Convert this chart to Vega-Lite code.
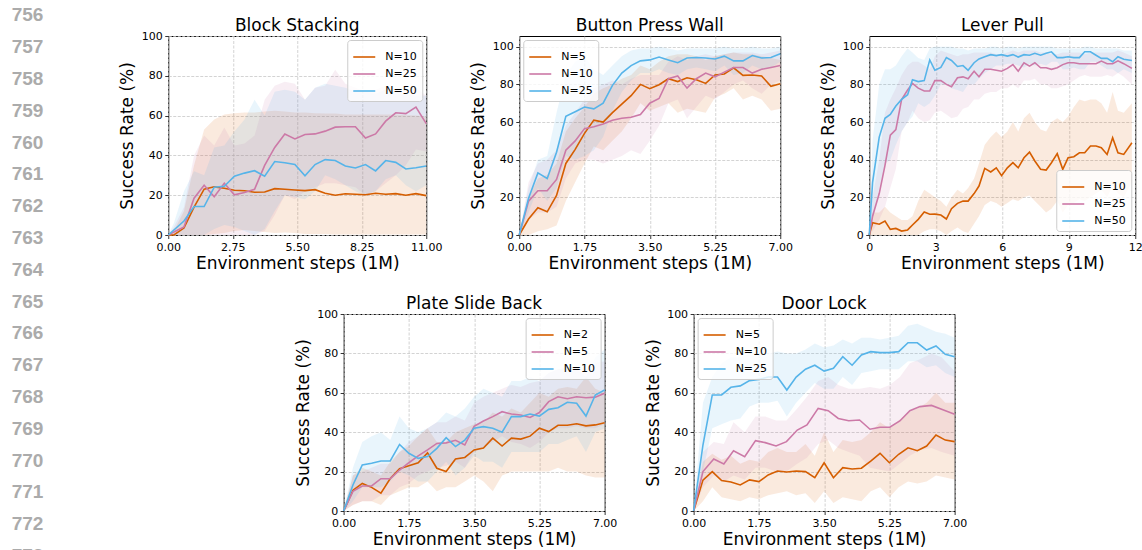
{
  "$schema": "https://vega.github.io/schema/vega-lite/v6.json",
  "padding": {"left": 0, "top": 6, "right": 0, "bottom": 0},
  "background": "white",
  "datasets": {
    "lines": [
      {"n": 756}, {"n": 757}, {"n": 758}, {"n": 759}, {"n": 760}, {"n": 761}, {"n": 762}, {"n": 763}, {"n": 764},
      {"n": 765}, {"n": 766}, {"n": 767}, {"n": 768}, {"n": 769}, {"n": 770}, {"n": 771}, {"n": 772}, {"n": 773}
    ],
    "p1": [
      {"x": 0, "s": "N=10", "m": 0, "lo": 0, "hi": 0},
      {"x": 0.24, "s": "N=10", "m": 0, "lo": 0, "hi": 2},
      {"x": 0.67, "s": "N=10", "m": 3.5, "lo": 0, "hi": 12},
      {"x": 1.1, "s": "N=10", "m": 14, "lo": 0, "hi": 35},
      {"x": 1.53, "s": "N=10", "m": 23, "lo": 0, "hi": 53},
      {"x": 1.96, "s": "N=10", "m": 24.2, "lo": 0.5, "hi": 58},
      {"x": 2.39, "s": "N=10", "m": 23.5, "lo": 1, "hi": 60.5},
      {"x": 2.82, "s": "N=10", "m": 22.5, "lo": 2, "hi": 61.2},
      {"x": 3.25, "s": "N=10", "m": 22.2, "lo": 2.5, "hi": 61.5},
      {"x": 3.68, "s": "N=10", "m": 21.5, "lo": 2, "hi": 61.5},
      {"x": 4.11, "s": "N=10", "m": 21.6, "lo": 1.5, "hi": 62},
      {"x": 4.54, "s": "N=10", "m": 23.3, "lo": 1, "hi": 62.5},
      {"x": 4.97, "s": "N=10", "m": 23, "lo": 1.2, "hi": 62},
      {"x": 5.4, "s": "N=10", "m": 22.6, "lo": 1, "hi": 61.5},
      {"x": 5.83, "s": "N=10", "m": 22.3, "lo": 0.5, "hi": 61.5},
      {"x": 6.26, "s": "N=10", "m": 22.8, "lo": 0.5, "hi": 61.2},
      {"x": 6.69, "s": "N=10", "m": 21, "lo": 0.5, "hi": 61},
      {"x": 7.12, "s": "N=10", "m": 20, "lo": 0.3, "hi": 61},
      {"x": 7.55, "s": "N=10", "m": 20.7, "lo": 0.3, "hi": 60.5},
      {"x": 7.98, "s": "N=10", "m": 20.5, "lo": 0.3, "hi": 60.5},
      {"x": 8.41, "s": "N=10", "m": 20.2, "lo": 0.3, "hi": 60.5},
      {"x": 8.84, "s": "N=10", "m": 21, "lo": 0.3, "hi": 60.5},
      {"x": 9.27, "s": "N=10", "m": 20.5, "lo": 0.3, "hi": 60.5},
      {"x": 9.7, "s": "N=10", "m": 20.8, "lo": 0.3, "hi": 60.5},
      {"x": 10.13, "s": "N=10", "m": 20, "lo": 0.3, "hi": 60.2},
      {"x": 10.56, "s": "N=10", "m": 20.8, "lo": 0.3, "hi": 60},
      {"x": 11, "s": "N=10", "m": 19.8, "lo": 0.3, "hi": 59.5},
      {"x": 0, "s": "N=25", "m": 0, "lo": 0, "hi": 0},
      {"x": 0.24, "s": "N=25", "m": 1.5, "lo": 0, "hi": 4},
      {"x": 0.67, "s": "N=25", "m": 4, "lo": 0, "hi": 14},
      {"x": 1.1, "s": "N=25", "m": 18.5, "lo": 0, "hi": 40},
      {"x": 1.53, "s": "N=25", "m": 25, "lo": 0, "hi": 50},
      {"x": 1.96, "s": "N=25", "m": 19.2, "lo": 0, "hi": 45},
      {"x": 2.39, "s": "N=25", "m": 26, "lo": 0, "hi": 54},
      {"x": 2.82, "s": "N=25", "m": 20.2, "lo": 0, "hi": 45},
      {"x": 3.25, "s": "N=25", "m": 21.4, "lo": 0, "hi": 46},
      {"x": 3.68, "s": "N=25", "m": 23, "lo": 0, "hi": 50},
      {"x": 4.11, "s": "N=25", "m": 35, "lo": 2, "hi": 68},
      {"x": 4.54, "s": "N=25", "m": 44, "lo": 10, "hi": 75},
      {"x": 4.97, "s": "N=25", "m": 50.8, "lo": 20, "hi": 77},
      {"x": 5.4, "s": "N=25", "m": 48.3, "lo": 18, "hi": 76},
      {"x": 5.83, "s": "N=25", "m": 50.5, "lo": 22, "hi": 68},
      {"x": 6.26, "s": "N=25", "m": 50.8, "lo": 24, "hi": 74},
      {"x": 6.69, "s": "N=25", "m": 52.2, "lo": 26, "hi": 75},
      {"x": 7.12, "s": "N=25", "m": 54.2, "lo": 26, "hi": 83},
      {"x": 7.55, "s": "N=25", "m": 54.4, "lo": 25, "hi": 76},
      {"x": 7.98, "s": "N=25", "m": 54.4, "lo": 24, "hi": 74},
      {"x": 8.41, "s": "N=25", "m": 48.7, "lo": 20, "hi": 72},
      {"x": 8.84, "s": "N=25", "m": 50.8, "lo": 22, "hi": 73},
      {"x": 9.27, "s": "N=25", "m": 57.2, "lo": 26, "hi": 75},
      {"x": 9.7, "s": "N=25", "m": 61.4, "lo": 30, "hi": 73},
      {"x": 10.13, "s": "N=25", "m": 61, "lo": 35, "hi": 72},
      {"x": 10.56, "s": "N=25", "m": 64.3, "lo": 43, "hi": 74},
      {"x": 11, "s": "N=25", "m": 56, "lo": 42, "hi": 70},
      {"x": 0, "s": "N=50", "m": 0, "lo": 0, "hi": 0},
      {"x": 0.24, "s": "N=50", "m": 2.5, "lo": 0, "hi": 6},
      {"x": 0.67, "s": "N=50", "m": 7, "lo": 0, "hi": 22},
      {"x": 1.1, "s": "N=50", "m": 14.3, "lo": 0, "hi": 32},
      {"x": 1.53, "s": "N=50", "m": 14.3, "lo": 0, "hi": 30},
      {"x": 1.96, "s": "N=50", "m": 24, "lo": 3, "hi": 44},
      {"x": 2.39, "s": "N=50", "m": 24.5, "lo": 5, "hi": 45},
      {"x": 2.82, "s": "N=50", "m": 29.5, "lo": 4, "hi": 52},
      {"x": 3.25, "s": "N=50", "m": 31.1, "lo": 2, "hi": 58},
      {"x": 3.68, "s": "N=50", "m": 32.3, "lo": 0, "hi": 68},
      {"x": 4.11, "s": "N=50", "m": 29.5, "lo": 3, "hi": 60},
      {"x": 4.54, "s": "N=50", "m": 36.9, "lo": 12, "hi": 72},
      {"x": 4.97, "s": "N=50", "m": 36.3, "lo": 20, "hi": 73},
      {"x": 5.4, "s": "N=50", "m": 35.4, "lo": 19, "hi": 72},
      {"x": 5.83, "s": "N=50", "m": 29.8, "lo": 18, "hi": 68},
      {"x": 6.26, "s": "N=50", "m": 35.4, "lo": 22, "hi": 74},
      {"x": 6.69, "s": "N=50", "m": 37.9, "lo": 30, "hi": 76},
      {"x": 7.12, "s": "N=50", "m": 37.4, "lo": 28, "hi": 75},
      {"x": 7.55, "s": "N=50", "m": 34.7, "lo": 25, "hi": 74},
      {"x": 7.98, "s": "N=50", "m": 33.7, "lo": 22, "hi": 72},
      {"x": 8.41, "s": "N=50", "m": 35.4, "lo": 20, "hi": 72},
      {"x": 8.84, "s": "N=50", "m": 32.2, "lo": 22, "hi": 71},
      {"x": 9.27, "s": "N=50", "m": 37.4, "lo": 28, "hi": 73},
      {"x": 9.7, "s": "N=50", "m": 36.5, "lo": 30, "hi": 72},
      {"x": 10.13, "s": "N=50", "m": 33.2, "lo": 25, "hi": 71},
      {"x": 10.56, "s": "N=50", "m": 33.8, "lo": 22, "hi": 70},
      {"x": 11, "s": "N=50", "m": 34.7, "lo": 25, "hi": 70}
    ],
    "p2": [
      {"x": 0, "s": "N=5", "m": 0, "lo": 0, "hi": 0},
      {"x": 0.25, "s": "N=5", "m": 8.5, "lo": 0, "hi": 20},
      {"x": 0.5, "s": "N=5", "m": 14.5, "lo": 2, "hi": 30},
      {"x": 0.75, "s": "N=5", "m": 12.3, "lo": 3, "hi": 32},
      {"x": 1, "s": "N=5", "m": 21, "lo": 5, "hi": 38},
      {"x": 1.25, "s": "N=5", "m": 38, "lo": 18, "hi": 55},
      {"x": 1.5, "s": "N=5", "m": 45.5, "lo": 28, "hi": 62},
      {"x": 1.75, "s": "N=5", "m": 54, "lo": 38, "hi": 68},
      {"x": 2, "s": "N=5", "m": 61, "lo": 47, "hi": 75},
      {"x": 2.25, "s": "N=5", "m": 60, "lo": 45, "hi": 78},
      {"x": 2.5, "s": "N=5", "m": 65, "lo": 50, "hi": 80},
      {"x": 2.75, "s": "N=5", "m": 69.5, "lo": 55, "hi": 83},
      {"x": 3, "s": "N=5", "m": 74, "lo": 62, "hi": 85},
      {"x": 3.25, "s": "N=5", "m": 80, "lo": 70, "hi": 90},
      {"x": 3.5, "s": "N=5", "m": 77.7, "lo": 66, "hi": 88},
      {"x": 3.75, "s": "N=5", "m": 79.8, "lo": 68, "hi": 92},
      {"x": 4, "s": "N=5", "m": 83, "lo": 70, "hi": 95},
      {"x": 4.25, "s": "N=5", "m": 81.5, "lo": 65, "hi": 96},
      {"x": 4.5, "s": "N=5", "m": 83.5, "lo": 67, "hi": 96},
      {"x": 4.75, "s": "N=5", "m": 82.5, "lo": 66, "hi": 95},
      {"x": 5, "s": "N=5", "m": 80.5, "lo": 65, "hi": 93},
      {"x": 5.25, "s": "N=5", "m": 85, "lo": 73, "hi": 95},
      {"x": 5.5, "s": "N=5", "m": 85.5, "lo": 75, "hi": 96},
      {"x": 5.75, "s": "N=5", "m": 88.8, "lo": 78, "hi": 97},
      {"x": 6, "s": "N=5", "m": 84.8, "lo": 72, "hi": 96},
      {"x": 6.25, "s": "N=5", "m": 85, "lo": 74, "hi": 96},
      {"x": 6.5, "s": "N=5", "m": 84.5, "lo": 72, "hi": 95},
      {"x": 6.75, "s": "N=5", "m": 79, "lo": 66, "hi": 94},
      {"x": 7, "s": "N=5", "m": 80.3, "lo": 67, "hi": 93},
      {"x": 0, "s": "N=10", "m": 0, "lo": 0, "hi": 0},
      {"x": 0.25, "s": "N=10", "m": 18, "lo": 8, "hi": 28},
      {"x": 0.5, "s": "N=10", "m": 23.5, "lo": 12, "hi": 38},
      {"x": 0.75, "s": "N=10", "m": 23.5, "lo": 12, "hi": 40},
      {"x": 1, "s": "N=10", "m": 29.5, "lo": 15, "hi": 45},
      {"x": 1.25, "s": "N=10", "m": 45, "lo": 30, "hi": 58},
      {"x": 1.5, "s": "N=10", "m": 50, "lo": 38, "hi": 65},
      {"x": 1.75, "s": "N=10", "m": 56.5, "lo": 40, "hi": 72},
      {"x": 2, "s": "N=10", "m": 57.5, "lo": 40, "hi": 78},
      {"x": 2.25, "s": "N=10", "m": 59, "lo": 38, "hi": 80},
      {"x": 2.5, "s": "N=10", "m": 61, "lo": 40, "hi": 82},
      {"x": 2.75, "s": "N=10", "m": 62, "lo": 42, "hi": 80},
      {"x": 3, "s": "N=10", "m": 62.5, "lo": 45, "hi": 83},
      {"x": 3.25, "s": "N=10", "m": 64, "lo": 43, "hi": 85},
      {"x": 3.5, "s": "N=10", "m": 70, "lo": 50, "hi": 85},
      {"x": 3.75, "s": "N=10", "m": 72.5, "lo": 58, "hi": 85},
      {"x": 4, "s": "N=10", "m": 83, "lo": 70, "hi": 92},
      {"x": 4.25, "s": "N=10", "m": 84.5, "lo": 72, "hi": 95},
      {"x": 4.5, "s": "N=10", "m": 78, "lo": 62, "hi": 93},
      {"x": 4.75, "s": "N=10", "m": 83, "lo": 68, "hi": 95},
      {"x": 5, "s": "N=10", "m": 86, "lo": 74, "hi": 96},
      {"x": 5.25, "s": "N=10", "m": 84, "lo": 72, "hi": 95},
      {"x": 5.5, "s": "N=10", "m": 86.5, "lo": 76, "hi": 96},
      {"x": 5.75, "s": "N=10", "m": 89, "lo": 80, "hi": 97},
      {"x": 6, "s": "N=10", "m": 89, "lo": 82, "hi": 97},
      {"x": 6.25, "s": "N=10", "m": 86, "lo": 78, "hi": 97},
      {"x": 6.5, "s": "N=10", "m": 88, "lo": 75, "hi": 96},
      {"x": 6.75, "s": "N=10", "m": 89, "lo": 80, "hi": 97},
      {"x": 7, "s": "N=10", "m": 90, "lo": 82, "hi": 98},
      {"x": 0, "s": "N=25", "m": 0, "lo": 0, "hi": 0},
      {"x": 0.25, "s": "N=25", "m": 19.5, "lo": 12, "hi": 25},
      {"x": 0.5, "s": "N=25", "m": 33, "lo": 25, "hi": 40},
      {"x": 0.75, "s": "N=25", "m": 30, "lo": 18, "hi": 42},
      {"x": 1, "s": "N=25", "m": 44, "lo": 25, "hi": 65},
      {"x": 1.25, "s": "N=25", "m": 63, "lo": 42, "hi": 85},
      {"x": 1.5, "s": "N=25", "m": 65.5, "lo": 40, "hi": 92},
      {"x": 1.75, "s": "N=25", "m": 68, "lo": 42, "hi": 95},
      {"x": 2, "s": "N=25", "m": 67, "lo": 45, "hi": 88},
      {"x": 2.25, "s": "N=25", "m": 70, "lo": 52, "hi": 85},
      {"x": 2.5, "s": "N=25", "m": 79.5, "lo": 66, "hi": 90},
      {"x": 2.75, "s": "N=25", "m": 86, "lo": 76, "hi": 95},
      {"x": 3, "s": "N=25", "m": 90, "lo": 82, "hi": 98},
      {"x": 3.25, "s": "N=25", "m": 92.5, "lo": 86, "hi": 99},
      {"x": 3.5, "s": "N=25", "m": 93, "lo": 86, "hi": 99},
      {"x": 3.75, "s": "N=25", "m": 94.5, "lo": 88, "hi": 100},
      {"x": 4, "s": "N=25", "m": 93, "lo": 86, "hi": 99},
      {"x": 4.25, "s": "N=25", "m": 91.5, "lo": 85, "hi": 98},
      {"x": 4.5, "s": "N=25", "m": 94, "lo": 88, "hi": 99},
      {"x": 4.75, "s": "N=25", "m": 94.3, "lo": 89, "hi": 99},
      {"x": 5, "s": "N=25", "m": 94, "lo": 88, "hi": 99},
      {"x": 5.25, "s": "N=25", "m": 93.5, "lo": 87, "hi": 99},
      {"x": 5.5, "s": "N=25", "m": 95, "lo": 90, "hi": 100},
      {"x": 5.75, "s": "N=25", "m": 92.5, "lo": 85, "hi": 99},
      {"x": 6, "s": "N=25", "m": 92.5, "lo": 86, "hi": 99},
      {"x": 6.25, "s": "N=25", "m": 95.3, "lo": 90, "hi": 100},
      {"x": 6.5, "s": "N=25", "m": 94, "lo": 88, "hi": 99},
      {"x": 6.75, "s": "N=25", "m": 94.3, "lo": 89, "hi": 99},
      {"x": 7, "s": "N=25", "m": 96.3, "lo": 92, "hi": 100}
    ],
    "p3": [
      {"x": 0, "s": "N=10", "m": 0, "lo": 0, "hi": 0},
      {"x": 0.15, "s": "N=10", "m": 6.5, "lo": 0, "hi": 12},
      {"x": 0.45, "s": "N=10", "m": 5.7, "lo": 0, "hi": 12},
      {"x": 0.71, "s": "N=10", "m": 7.4, "lo": 0, "hi": 15},
      {"x": 0.95, "s": "N=10", "m": 3, "lo": 0, "hi": 12},
      {"x": 1.2, "s": "N=10", "m": 3.5, "lo": 0, "hi": 10},
      {"x": 1.46, "s": "N=10", "m": 2.1, "lo": 0, "hi": 8},
      {"x": 1.73, "s": "N=10", "m": 2.7, "lo": 0, "hi": 8},
      {"x": 1.95, "s": "N=10", "m": 5.3, "lo": 0, "hi": 10},
      {"x": 2.21, "s": "N=10", "m": 8.3, "lo": 0, "hi": 18},
      {"x": 2.48, "s": "N=10", "m": 12.2, "lo": 2, "hi": 24},
      {"x": 2.73, "s": "N=10", "m": 11, "lo": 3, "hi": 22},
      {"x": 2.96, "s": "N=10", "m": 11.1, "lo": 3, "hi": 20},
      {"x": 3.23, "s": "N=10", "m": 10.6, "lo": 2, "hi": 18},
      {"x": 3.48, "s": "N=10", "m": 8.5, "lo": 0, "hi": 15},
      {"x": 3.71, "s": "N=10", "m": 14, "lo": 2, "hi": 20},
      {"x": 3.98, "s": "N=10", "m": 16.8, "lo": 4, "hi": 24},
      {"x": 4.23, "s": "N=10", "m": 18, "lo": 2, "hi": 22},
      {"x": 4.46, "s": "N=10", "m": 18, "lo": 1, "hi": 25},
      {"x": 4.73, "s": "N=10", "m": 22, "lo": 6, "hi": 30},
      {"x": 4.95, "s": "N=10", "m": 26, "lo": 10, "hi": 38},
      {"x": 5.21, "s": "N=10", "m": 35.4, "lo": 16, "hi": 48},
      {"x": 5.48, "s": "N=10", "m": 33.5, "lo": 18, "hi": 52},
      {"x": 5.73, "s": "N=10", "m": 35.7, "lo": 17, "hi": 55},
      {"x": 5.97, "s": "N=10", "m": 31.5, "lo": 15, "hi": 52},
      {"x": 6.23, "s": "N=10", "m": 35.7, "lo": 17, "hi": 55},
      {"x": 6.48, "s": "N=10", "m": 38.4, "lo": 19, "hi": 60},
      {"x": 6.72, "s": "N=10", "m": 35.7, "lo": 18, "hi": 55},
      {"x": 6.98, "s": "N=10", "m": 41, "lo": 20, "hi": 62},
      {"x": 7.23, "s": "N=10", "m": 44, "lo": 21, "hi": 65},
      {"x": 7.47, "s": "N=10", "m": 39.3, "lo": 18, "hi": 60},
      {"x": 7.73, "s": "N=10", "m": 34.9, "lo": 15, "hi": 56},
      {"x": 7.98, "s": "N=10", "m": 34.5, "lo": 12, "hi": 55},
      {"x": 8.22, "s": "N=10", "m": 38.4, "lo": 14, "hi": 60},
      {"x": 8.48, "s": "N=10", "m": 43.2, "lo": 18, "hi": 62},
      {"x": 8.73, "s": "N=10", "m": 34.9, "lo": 12, "hi": 60},
      {"x": 8.97, "s": "N=10", "m": 41, "lo": 16, "hi": 63},
      {"x": 9.23, "s": "N=10", "m": 41.6, "lo": 17, "hi": 68},
      {"x": 9.48, "s": "N=10", "m": 43.7, "lo": 19, "hi": 72},
      {"x": 9.72, "s": "N=10", "m": 43.7, "lo": 18, "hi": 71},
      {"x": 9.98, "s": "N=10", "m": 47.3, "lo": 20, "hi": 72},
      {"x": 10.23, "s": "N=10", "m": 47.3, "lo": 22, "hi": 72},
      {"x": 10.47, "s": "N=10", "m": 46.4, "lo": 24, "hi": 70},
      {"x": 10.73, "s": "N=10", "m": 42.8, "lo": 20, "hi": 65},
      {"x": 10.98, "s": "N=10", "m": 51.7, "lo": 26, "hi": 76},
      {"x": 11.22, "s": "N=10", "m": 43.7, "lo": 22, "hi": 66},
      {"x": 11.48, "s": "N=10", "m": 42.8, "lo": 20, "hi": 65},
      {"x": 11.85, "s": "N=10", "m": 49, "lo": 28, "hi": 70},
      {"x": 0, "s": "N=25", "m": 0, "lo": 0, "hi": 0},
      {"x": 0.15, "s": "N=25", "m": 10, "lo": 2, "hi": 20},
      {"x": 0.45, "s": "N=25", "m": 22, "lo": 8, "hi": 40},
      {"x": 0.71, "s": "N=25", "m": 37, "lo": 15, "hi": 65},
      {"x": 0.95, "s": "N=25", "m": 53, "lo": 25, "hi": 72},
      {"x": 1.2, "s": "N=25", "m": 56, "lo": 35, "hi": 78},
      {"x": 1.46, "s": "N=25", "m": 72, "lo": 55, "hi": 85},
      {"x": 1.73, "s": "N=25", "m": 77, "lo": 60, "hi": 90},
      {"x": 1.95, "s": "N=25", "m": 80.5, "lo": 66, "hi": 92},
      {"x": 2.21, "s": "N=25", "m": 78, "lo": 62, "hi": 92},
      {"x": 2.48, "s": "N=25", "m": 76.5, "lo": 60, "hi": 90},
      {"x": 2.73, "s": "N=25", "m": 76.5, "lo": 61, "hi": 88},
      {"x": 2.96, "s": "N=25", "m": 82, "lo": 65, "hi": 95},
      {"x": 3.23, "s": "N=25", "m": 82, "lo": 66, "hi": 98},
      {"x": 3.48, "s": "N=25", "m": 80, "lo": 64, "hi": 97},
      {"x": 3.71, "s": "N=25", "m": 78.8, "lo": 62, "hi": 96},
      {"x": 3.98, "s": "N=25", "m": 83.5, "lo": 63, "hi": 95},
      {"x": 4.23, "s": "N=25", "m": 84, "lo": 67, "hi": 96},
      {"x": 4.46, "s": "N=25", "m": 83, "lo": 68, "hi": 96},
      {"x": 4.73, "s": "N=25", "m": 87, "lo": 72, "hi": 97},
      {"x": 4.95, "s": "N=25", "m": 84, "lo": 72, "hi": 97},
      {"x": 5.21, "s": "N=25", "m": 88, "lo": 75, "hi": 97},
      {"x": 5.48, "s": "N=25", "m": 88, "lo": 76, "hi": 97},
      {"x": 5.73, "s": "N=25", "m": 87.5, "lo": 76, "hi": 96},
      {"x": 5.97, "s": "N=25", "m": 87, "lo": 78, "hi": 96},
      {"x": 6.23, "s": "N=25", "m": 88.5, "lo": 78, "hi": 97},
      {"x": 6.48, "s": "N=25", "m": 90.5, "lo": 80, "hi": 98},
      {"x": 6.72, "s": "N=25", "m": 87, "lo": 78, "hi": 97},
      {"x": 6.98, "s": "N=25", "m": 91.5, "lo": 82, "hi": 98},
      {"x": 7.23, "s": "N=25", "m": 89.7, "lo": 82, "hi": 98},
      {"x": 7.47, "s": "N=25", "m": 91.5, "lo": 83, "hi": 98},
      {"x": 7.73, "s": "N=25", "m": 88.8, "lo": 80, "hi": 97},
      {"x": 7.98, "s": "N=25", "m": 88.8, "lo": 80, "hi": 97},
      {"x": 8.22, "s": "N=25", "m": 88, "lo": 78, "hi": 96},
      {"x": 8.48, "s": "N=25", "m": 88.8, "lo": 78, "hi": 96},
      {"x": 8.73, "s": "N=25", "m": 90.5, "lo": 79, "hi": 97},
      {"x": 8.97, "s": "N=25", "m": 91.5, "lo": 80, "hi": 97},
      {"x": 9.23, "s": "N=25", "m": 91.5, "lo": 82, "hi": 97},
      {"x": 9.48, "s": "N=25", "m": 91, "lo": 84, "hi": 97},
      {"x": 9.72, "s": "N=25", "m": 91, "lo": 85, "hi": 96},
      {"x": 9.98, "s": "N=25", "m": 91, "lo": 84, "hi": 97},
      {"x": 10.23, "s": "N=25", "m": 91, "lo": 84, "hi": 97},
      {"x": 10.47, "s": "N=25", "m": 92.4, "lo": 84, "hi": 97},
      {"x": 10.73, "s": "N=25", "m": 91, "lo": 85, "hi": 97},
      {"x": 10.98, "s": "N=25", "m": 91, "lo": 84, "hi": 97},
      {"x": 11.22, "s": "N=25", "m": 92.5, "lo": 86, "hi": 98},
      {"x": 11.48, "s": "N=25", "m": 91, "lo": 84, "hi": 97},
      {"x": 11.85, "s": "N=25", "m": 88.5, "lo": 80, "hi": 95},
      {"x": 0, "s": "N=50", "m": 0, "lo": 0, "hi": 0},
      {"x": 0.15, "s": "N=50", "m": 28, "lo": 8, "hi": 50},
      {"x": 0.45, "s": "N=50", "m": 52, "lo": 25, "hi": 80},
      {"x": 0.71, "s": "N=50", "m": 62, "lo": 38, "hi": 88},
      {"x": 0.95, "s": "N=50", "m": 64, "lo": 40, "hi": 88},
      {"x": 1.2, "s": "N=50", "m": 68.5, "lo": 48, "hi": 90},
      {"x": 1.46, "s": "N=50", "m": 72, "lo": 55, "hi": 95},
      {"x": 1.73, "s": "N=50", "m": 74.5, "lo": 60, "hi": 99},
      {"x": 1.95, "s": "N=50", "m": 82.5, "lo": 63, "hi": 97},
      {"x": 2.21, "s": "N=50", "m": 81.5, "lo": 70, "hi": 94},
      {"x": 2.48, "s": "N=50", "m": 82, "lo": 68, "hi": 93},
      {"x": 2.73, "s": "N=50", "m": 93, "lo": 70, "hi": 99},
      {"x": 2.96, "s": "N=50", "m": 87.5, "lo": 74, "hi": 100},
      {"x": 3.23, "s": "N=50", "m": 89, "lo": 80, "hi": 100},
      {"x": 3.48, "s": "N=50", "m": 94.2, "lo": 80, "hi": 100},
      {"x": 3.71, "s": "N=50", "m": 92.7, "lo": 78, "hi": 100},
      {"x": 3.98, "s": "N=50", "m": 89.5, "lo": 77, "hi": 99},
      {"x": 4.23, "s": "N=50", "m": 90, "lo": 76, "hi": 99},
      {"x": 4.46, "s": "N=50", "m": 87.5, "lo": 80, "hi": 98},
      {"x": 4.73, "s": "N=50", "m": 91.5, "lo": 80, "hi": 99},
      {"x": 4.95, "s": "N=50", "m": 93.5, "lo": 83, "hi": 99},
      {"x": 5.21, "s": "N=50", "m": 94.7, "lo": 86, "hi": 99},
      {"x": 5.48, "s": "N=50", "m": 95.8, "lo": 88, "hi": 100},
      {"x": 5.73, "s": "N=50", "m": 95.3, "lo": 90, "hi": 100},
      {"x": 5.97, "s": "N=50", "m": 95.8, "lo": 90, "hi": 99},
      {"x": 6.23, "s": "N=50", "m": 95, "lo": 91, "hi": 100},
      {"x": 6.48, "s": "N=50", "m": 95.8, "lo": 91, "hi": 100},
      {"x": 6.72, "s": "N=50", "m": 94.5, "lo": 90, "hi": 99},
      {"x": 6.98, "s": "N=50", "m": 95.8, "lo": 89, "hi": 100},
      {"x": 7.23, "s": "N=50", "m": 95.5, "lo": 91, "hi": 100},
      {"x": 7.47, "s": "N=50", "m": 96.5, "lo": 90, "hi": 100},
      {"x": 7.73, "s": "N=50", "m": 95.5, "lo": 91, "hi": 100},
      {"x": 7.98, "s": "N=50", "m": 96.5, "lo": 90, "hi": 100},
      {"x": 8.22, "s": "N=50", "m": 97.3, "lo": 92, "hi": 100},
      {"x": 8.48, "s": "N=50", "m": 94.2, "lo": 92, "hi": 99},
      {"x": 8.73, "s": "N=50", "m": 94.2, "lo": 88, "hi": 99},
      {"x": 8.97, "s": "N=50", "m": 94.7, "lo": 88, "hi": 99},
      {"x": 9.23, "s": "N=50", "m": 94.2, "lo": 89, "hi": 99},
      {"x": 9.48, "s": "N=50", "m": 94.2, "lo": 88, "hi": 99},
      {"x": 9.72, "s": "N=50", "m": 97.3, "lo": 88, "hi": 100},
      {"x": 9.98, "s": "N=50", "m": 97.3, "lo": 92, "hi": 100},
      {"x": 10.23, "s": "N=50", "m": 95.5, "lo": 92, "hi": 99},
      {"x": 10.47, "s": "N=50", "m": 93.8, "lo": 90, "hi": 99},
      {"x": 10.73, "s": "N=50", "m": 93.8, "lo": 88, "hi": 99},
      {"x": 10.98, "s": "N=50", "m": 92, "lo": 88, "hi": 99},
      {"x": 11.22, "s": "N=50", "m": 94.7, "lo": 86, "hi": 99},
      {"x": 11.48, "s": "N=50", "m": 93.3, "lo": 88, "hi": 98},
      {"x": 11.85, "s": "N=50", "m": 92.7, "lo": 86, "hi": 98}
    ],
    "p4": [
      {"x": 0, "s": "N=2", "m": 0, "lo": 0, "hi": 0},
      {"x": 0.25, "s": "N=2", "m": 10.5, "lo": 3, "hi": 18},
      {"x": 0.5, "s": "N=2", "m": 14, "lo": 5, "hi": 22},
      {"x": 0.75, "s": "N=2", "m": 12, "lo": 5, "hi": 20},
      {"x": 1, "s": "N=2", "m": 9, "lo": 3, "hi": 18},
      {"x": 1.25, "s": "N=2", "m": 16.5, "lo": 8, "hi": 25},
      {"x": 1.5, "s": "N=2", "m": 21.5, "lo": 10, "hi": 30},
      {"x": 1.75, "s": "N=2", "m": 23, "lo": 12, "hi": 33},
      {"x": 2, "s": "N=2", "m": 24.5, "lo": 12, "hi": 38},
      {"x": 2.25, "s": "N=2", "m": 29.5, "lo": 15, "hi": 42},
      {"x": 2.5, "s": "N=2", "m": 21.7, "lo": 10, "hi": 35},
      {"x": 2.75, "s": "N=2", "m": 20, "lo": 12, "hi": 35},
      {"x": 3, "s": "N=2", "m": 26.4, "lo": 12, "hi": 40},
      {"x": 3.25, "s": "N=2", "m": 27.2, "lo": 15, "hi": 42},
      {"x": 3.5, "s": "N=2", "m": 31, "lo": 18, "hi": 44},
      {"x": 3.75, "s": "N=2", "m": 32, "lo": 15, "hi": 45},
      {"x": 4, "s": "N=2", "m": 37, "lo": 10, "hi": 50},
      {"x": 4.25, "s": "N=2", "m": 33, "lo": 18, "hi": 48},
      {"x": 4.5, "s": "N=2", "m": 37, "lo": 20, "hi": 52},
      {"x": 4.75, "s": "N=2", "m": 36.5, "lo": 20, "hi": 50},
      {"x": 5, "s": "N=2", "m": 38, "lo": 20, "hi": 55},
      {"x": 5.25, "s": "N=2", "m": 42, "lo": 20, "hi": 60},
      {"x": 5.5, "s": "N=2", "m": 40.3, "lo": 20, "hi": 58},
      {"x": 5.75, "s": "N=2", "m": 43.5, "lo": 22, "hi": 62},
      {"x": 6, "s": "N=2", "m": 43.5, "lo": 20, "hi": 63},
      {"x": 6.25, "s": "N=2", "m": 44.3, "lo": 20, "hi": 62},
      {"x": 6.5, "s": "N=2", "m": 43.2, "lo": 18, "hi": 68},
      {"x": 6.75, "s": "N=2", "m": 43.7, "lo": 17, "hi": 62},
      {"x": 7, "s": "N=2", "m": 44.8, "lo": 17, "hi": 60},
      {"x": 0, "s": "N=5", "m": 0, "lo": 0, "hi": 0},
      {"x": 0.25, "s": "N=5", "m": 10, "lo": 3, "hi": 18},
      {"x": 0.5, "s": "N=5", "m": 12.7, "lo": 5, "hi": 20},
      {"x": 0.75, "s": "N=5", "m": 12.7, "lo": 5, "hi": 22},
      {"x": 1, "s": "N=5", "m": 16.4, "lo": 8, "hi": 24},
      {"x": 1.25, "s": "N=5", "m": 16.4, "lo": 8, "hi": 24},
      {"x": 1.5, "s": "N=5", "m": 20.8, "lo": 12, "hi": 30},
      {"x": 1.75, "s": "N=5", "m": 24.5, "lo": 14, "hi": 35},
      {"x": 2, "s": "N=5", "m": 28, "lo": 18, "hi": 38},
      {"x": 2.25, "s": "N=5", "m": 31, "lo": 20, "hi": 42},
      {"x": 2.5, "s": "N=5", "m": 34.3, "lo": 22, "hi": 45},
      {"x": 2.75, "s": "N=5", "m": 34.6, "lo": 23, "hi": 45},
      {"x": 3, "s": "N=5", "m": 35.9, "lo": 25, "hi": 48},
      {"x": 3.25, "s": "N=5", "m": 33.5, "lo": 22, "hi": 46},
      {"x": 3.5, "s": "N=5", "m": 43, "lo": 30, "hi": 55},
      {"x": 3.75, "s": "N=5", "m": 45.7, "lo": 32, "hi": 58},
      {"x": 4, "s": "N=5", "m": 47.9, "lo": 35, "hi": 60},
      {"x": 4.25, "s": "N=5", "m": 50.4, "lo": 38, "hi": 62},
      {"x": 4.5, "s": "N=5", "m": 49.2, "lo": 35, "hi": 64},
      {"x": 4.75, "s": "N=5", "m": 48.7, "lo": 34, "hi": 63},
      {"x": 5, "s": "N=5", "m": 47.5, "lo": 32, "hi": 65},
      {"x": 5.25, "s": "N=5", "m": 50, "lo": 35, "hi": 66},
      {"x": 5.5, "s": "N=5", "m": 55.5, "lo": 40, "hi": 70},
      {"x": 5.75, "s": "N=5", "m": 58, "lo": 42, "hi": 72},
      {"x": 6, "s": "N=5", "m": 57, "lo": 42, "hi": 72},
      {"x": 6.25, "s": "N=5", "m": 58, "lo": 43, "hi": 73},
      {"x": 6.5, "s": "N=5", "m": 57.5, "lo": 42, "hi": 72},
      {"x": 6.75, "s": "N=5", "m": 57.8, "lo": 42, "hi": 75},
      {"x": 7, "s": "N=5", "m": 59.8, "lo": 44, "hi": 76},
      {"x": 0, "s": "N=10", "m": 0, "lo": 0, "hi": 0},
      {"x": 0.25, "s": "N=10", "m": 13.2, "lo": 5, "hi": 22},
      {"x": 0.5, "s": "N=10", "m": 23.4, "lo": 12, "hi": 35},
      {"x": 0.75, "s": "N=10", "m": 24.2, "lo": 12, "hi": 38},
      {"x": 1, "s": "N=10", "m": 25.4, "lo": 12, "hi": 40},
      {"x": 1.25, "s": "N=10", "m": 25.4, "lo": 15, "hi": 36},
      {"x": 1.5, "s": "N=10", "m": 33.8, "lo": 20, "hi": 48},
      {"x": 1.75, "s": "N=10", "m": 29.3, "lo": 18, "hi": 42},
      {"x": 2, "s": "N=10", "m": 26.7, "lo": 15, "hi": 40},
      {"x": 2.25, "s": "N=10", "m": 27.6, "lo": 15, "hi": 42},
      {"x": 2.5, "s": "N=10", "m": 31.8, "lo": 20, "hi": 45},
      {"x": 2.75, "s": "N=10", "m": 37.2, "lo": 25, "hi": 50},
      {"x": 3, "s": "N=10", "m": 32.7, "lo": 18, "hi": 48},
      {"x": 3.25, "s": "N=10", "m": 36, "lo": 22, "hi": 52},
      {"x": 3.5, "s": "N=10", "m": 42, "lo": 28, "hi": 58},
      {"x": 3.75, "s": "N=10", "m": 42.8, "lo": 25, "hi": 62},
      {"x": 4, "s": "N=10", "m": 42, "lo": 25, "hi": 60},
      {"x": 4.25, "s": "N=10", "m": 40, "lo": 22, "hi": 58},
      {"x": 4.5, "s": "N=10", "m": 47.9, "lo": 30, "hi": 66},
      {"x": 4.75, "s": "N=10", "m": 47.9, "lo": 30, "hi": 66},
      {"x": 5, "s": "N=10", "m": 49.2, "lo": 30, "hi": 68},
      {"x": 5.25, "s": "N=10", "m": 48.2, "lo": 30, "hi": 66},
      {"x": 5.5, "s": "N=10", "m": 51.6, "lo": 34, "hi": 70},
      {"x": 5.75, "s": "N=10", "m": 52.4, "lo": 34, "hi": 72},
      {"x": 6, "s": "N=10", "m": 55.2, "lo": 36, "hi": 73},
      {"x": 6.25, "s": "N=10", "m": 54.7, "lo": 38, "hi": 72},
      {"x": 6.5, "s": "N=10", "m": 48.2, "lo": 30, "hi": 68},
      {"x": 6.75, "s": "N=10", "m": 58.9, "lo": 40, "hi": 78},
      {"x": 7, "s": "N=10", "m": 61.4, "lo": 42, "hi": 82}
    ],
    "p5": [
      {"x": 0, "s": "N=5", "m": 0, "lo": 0, "hi": 0},
      {"x": 0.25, "s": "N=5", "m": 15.7, "lo": 5, "hi": 25},
      {"x": 0.5, "s": "N=5", "m": 20, "lo": 12, "hi": 29},
      {"x": 0.75, "s": "N=5", "m": 15.5, "lo": 7, "hi": 26},
      {"x": 1, "s": "N=5", "m": 14.7, "lo": 6, "hi": 28},
      {"x": 1.25, "s": "N=5", "m": 13.2, "lo": 5, "hi": 24},
      {"x": 1.5, "s": "N=5", "m": 15.8, "lo": 7, "hi": 26},
      {"x": 1.75, "s": "N=5", "m": 14.9, "lo": 6, "hi": 25},
      {"x": 2, "s": "N=5", "m": 18.3, "lo": 8, "hi": 30},
      {"x": 2.25, "s": "N=5", "m": 20.3, "lo": 9, "hi": 32},
      {"x": 2.5, "s": "N=5", "m": 19.8, "lo": 10, "hi": 30},
      {"x": 2.75, "s": "N=5", "m": 20.3, "lo": 8, "hi": 30},
      {"x": 3, "s": "N=5", "m": 20, "lo": 9, "hi": 34},
      {"x": 3.25, "s": "N=5", "m": 16.9, "lo": 4, "hi": 28},
      {"x": 3.5, "s": "N=5", "m": 24.5, "lo": 10, "hi": 40},
      {"x": 3.75, "s": "N=5", "m": 16.9, "lo": 4, "hi": 30},
      {"x": 4, "s": "N=5", "m": 22, "lo": 7, "hi": 36},
      {"x": 4.25, "s": "N=5", "m": 21.3, "lo": 6, "hi": 35},
      {"x": 4.5, "s": "N=5", "m": 21.7, "lo": 5, "hi": 36},
      {"x": 4.75, "s": "N=5", "m": 25.3, "lo": 10, "hi": 40},
      {"x": 5, "s": "N=5", "m": 29.3, "lo": 12, "hi": 45},
      {"x": 5.25, "s": "N=5", "m": 24.5, "lo": 7, "hi": 42},
      {"x": 5.5, "s": "N=5", "m": 28.8, "lo": 12, "hi": 46},
      {"x": 5.75, "s": "N=5", "m": 32.1, "lo": 15, "hi": 50},
      {"x": 6, "s": "N=5", "m": 30.6, "lo": 14, "hi": 52},
      {"x": 6.25, "s": "N=5", "m": 33, "lo": 15, "hi": 55},
      {"x": 6.5, "s": "N=5", "m": 38.6, "lo": 18, "hi": 60},
      {"x": 6.75, "s": "N=5", "m": 36, "lo": 17, "hi": 55},
      {"x": 7, "s": "N=5", "m": 35.2, "lo": 16, "hi": 55},
      {"x": 0, "s": "N=10", "m": 0, "lo": 0, "hi": 0},
      {"x": 0.25, "s": "N=10", "m": 20, "lo": 12, "hi": 30},
      {"x": 0.54, "s": "N=10", "m": 26.4, "lo": 18, "hi": 35},
      {"x": 0.81, "s": "N=10", "m": 23.9, "lo": 15, "hi": 34},
      {"x": 1.07, "s": "N=10", "m": 30.6, "lo": 18, "hi": 45},
      {"x": 1.37, "s": "N=10", "m": 27.6, "lo": 16, "hi": 40},
      {"x": 1.66, "s": "N=10", "m": 35.7, "lo": 22, "hi": 48},
      {"x": 1.92, "s": "N=10", "m": 34.7, "lo": 22, "hi": 48},
      {"x": 2.21, "s": "N=10", "m": 33, "lo": 20, "hi": 46},
      {"x": 2.49, "s": "N=10", "m": 35.2, "lo": 20, "hi": 46},
      {"x": 2.78, "s": "N=10", "m": 41.1, "lo": 24, "hi": 52},
      {"x": 3.04, "s": "N=10", "m": 43.7, "lo": 27, "hi": 58},
      {"x": 3.34, "s": "N=10", "m": 52.1, "lo": 34, "hi": 66},
      {"x": 3.61, "s": "N=10", "m": 50.9, "lo": 36, "hi": 68},
      {"x": 3.88, "s": "N=10", "m": 47, "lo": 32, "hi": 64},
      {"x": 4.16, "s": "N=10", "m": 45.8, "lo": 30, "hi": 62},
      {"x": 4.45, "s": "N=10", "m": 46.2, "lo": 28, "hi": 62},
      {"x": 4.73, "s": "N=10", "m": 41.5, "lo": 22, "hi": 63},
      {"x": 5, "s": "N=10", "m": 42.5, "lo": 21, "hi": 62},
      {"x": 5.26, "s": "N=10", "m": 42.5, "lo": 20, "hi": 64},
      {"x": 5.53, "s": "N=10", "m": 45.7, "lo": 24, "hi": 68},
      {"x": 5.8, "s": "N=10", "m": 50.9, "lo": 28, "hi": 75},
      {"x": 6.07, "s": "N=10", "m": 53, "lo": 31, "hi": 77},
      {"x": 6.38, "s": "N=10", "m": 53.6, "lo": 32, "hi": 80},
      {"x": 6.65, "s": "N=10", "m": 51.6, "lo": 30, "hi": 78},
      {"x": 7, "s": "N=10", "m": 49.1, "lo": 28, "hi": 71},
      {"x": 0, "s": "N=25", "m": 0, "lo": 0, "hi": 0},
      {"x": 0.25, "s": "N=25", "m": 33.5, "lo": 20, "hi": 55},
      {"x": 0.5, "s": "N=25", "m": 58.9, "lo": 42, "hi": 68},
      {"x": 0.75, "s": "N=25", "m": 58.9, "lo": 44, "hi": 75},
      {"x": 1, "s": "N=25", "m": 62.8, "lo": 46, "hi": 78},
      {"x": 1.25, "s": "N=25", "m": 63.5, "lo": 47, "hi": 78},
      {"x": 1.5, "s": "N=25", "m": 66.2, "lo": 53, "hi": 80},
      {"x": 1.75, "s": "N=25", "m": 66.8, "lo": 55, "hi": 80},
      {"x": 2, "s": "N=25", "m": 68, "lo": 55, "hi": 80},
      {"x": 2.25, "s": "N=25", "m": 68, "lo": 56, "hi": 81},
      {"x": 2.5, "s": "N=25", "m": 61.4, "lo": 48, "hi": 80},
      {"x": 2.75, "s": "N=25", "m": 68, "lo": 55, "hi": 80},
      {"x": 3, "s": "N=25", "m": 72, "lo": 60, "hi": 82},
      {"x": 3.25, "s": "N=25", "m": 74, "lo": 65, "hi": 85},
      {"x": 3.5, "s": "N=25", "m": 71, "lo": 62, "hi": 83},
      {"x": 3.75, "s": "N=25", "m": 72.4, "lo": 62, "hi": 84},
      {"x": 4, "s": "N=25", "m": 78.3, "lo": 68, "hi": 87},
      {"x": 4.25, "s": "N=25", "m": 74, "lo": 64, "hi": 85},
      {"x": 4.5, "s": "N=25", "m": 79.2, "lo": 70, "hi": 88},
      {"x": 4.75, "s": "N=25", "m": 80.9, "lo": 71, "hi": 88},
      {"x": 5, "s": "N=25", "m": 80.4, "lo": 72, "hi": 87},
      {"x": 5.25, "s": "N=25", "m": 80.4, "lo": 72, "hi": 88},
      {"x": 5.5, "s": "N=25", "m": 80.9, "lo": 72, "hi": 89},
      {"x": 5.75, "s": "N=25", "m": 85.4, "lo": 76, "hi": 94},
      {"x": 6, "s": "N=25", "m": 85.4, "lo": 76, "hi": 95},
      {"x": 6.25, "s": "N=25", "m": 81.7, "lo": 73, "hi": 93},
      {"x": 6.5, "s": "N=25", "m": 83.8, "lo": 74, "hi": 91},
      {"x": 6.75, "s": "N=25", "m": 79.5, "lo": 70, "hi": 90},
      {"x": 7, "s": "N=25", "m": 78.3, "lo": 68, "hi": 88}
    ]
  },
  "hconcat": [
    {
      "width": 55,
      "height": 514,
      "view": {"stroke": null},
      "data": {"name": "lines"},
      "mark": {"type": "text", "font": "Liberation Sans", "fontSize": 19, "fontWeight": "bold", "color": "#ababab", "align": "center", "baseline": "middle"},
      "encoding": {
        "y": {"field": "n", "type": "quantitative", "scale": {"domain": [756.645, 772.809], "reverse": true, "nice": false, "zero": false}, "axis": null},
        "text": {"field": "n", "type": "quantitative", "format": "d"}
      }
    },
    {
      "vconcat": [
        {
          "hconcat": [
            {
              "width": 258, "height": 199,
              "title": {"text": "Block Stacking", "offset": -5},
              "data": {"name": "p1"},
              "encoding": {
                "x": {"field": "x", "type": "quantitative", "scale": {"domain": [0, 11], "nice": false, "zero": false}, "axis": {"title": "Environment steps (1M)", "values": [0, 2.75, 5.5, 8.25, 11], "format": ".2f"}},
                "y": {"type": "quantitative", "scale": {"domain": [0, 100], "nice": false}, "axis": {"title": "Success Rate (%)", "values": [0, 20, 40, 60, 80, 100]}}
              },
              "layer": [
                {"transform": [{"filter": "datum.s === 'N=10'"}], "mark": {"type": "area", "color": "#d55e00", "fillOpacity": 0.13}, "encoding": {"y": {"field": "lo"}, "y2": {"field": "hi"}}},
                {"transform": [{"filter": "datum.s === 'N=25'"}], "mark": {"type": "area", "color": "#cc79a7", "fillOpacity": 0.13}, "encoding": {"y": {"field": "lo"}, "y2": {"field": "hi"}}},
                {"transform": [{"filter": "datum.s === 'N=50'"}], "mark": {"type": "area", "color": "#56b4e9", "fillOpacity": 0.13}, "encoding": {"y": {"field": "lo"}, "y2": {"field": "hi"}}},
                {
                  "mark": {"type": "line", "strokeWidth": 1.6},
                  "encoding": {
                    "y": {"field": "m"},
                    "color": {"field": "s", "type": "nominal", "scale": {"domain": ["N=10", "N=25", "N=50"], "range": ["#d55e00", "#cc79a7", "#56b4e9"]}, "legend": {"orient": "top-right", "title": null}}
                  }
                }
              ]
            },
            {
              "width": 261, "height": 199,
              "title": {"text": "Button Press Wall", "offset": 1},
              "data": {"name": "p2"},
              "encoding": {
                "x": {"field": "x", "type": "quantitative", "scale": {"domain": [0, 7], "nice": false, "zero": false}, "axis": {"title": "Environment steps (1M)", "values": [0, 1.75, 3.5, 5.25, 7], "format": ".2f"}},
                "y": {"type": "quantitative", "scale": {"domain": [0, 105.7], "nice": false}, "axis": {"title": "Success Rate (%)", "values": [0, 20, 40, 60, 80, 100]}}
              },
              "layer": [
                {"transform": [{"filter": "datum.s === 'N=5'"}], "mark": {"type": "area", "color": "#d55e00", "fillOpacity": 0.13}, "encoding": {"y": {"field": "lo"}, "y2": {"field": "hi"}}},
                {"transform": [{"filter": "datum.s === 'N=10'"}], "mark": {"type": "area", "color": "#cc79a7", "fillOpacity": 0.13}, "encoding": {"y": {"field": "lo"}, "y2": {"field": "hi"}}},
                {"transform": [{"filter": "datum.s === 'N=25'"}], "mark": {"type": "area", "color": "#56b4e9", "fillOpacity": 0.13}, "encoding": {"y": {"field": "lo"}, "y2": {"field": "hi"}}},
                {
                  "mark": {"type": "line", "strokeWidth": 1.6},
                  "encoding": {
                    "y": {"field": "m"},
                    "color": {"field": "s", "type": "nominal", "scale": {"domain": ["N=5", "N=10", "N=25"], "range": ["#d55e00", "#cc79a7", "#56b4e9"]}, "legend": {"orient": "top-left", "title": null}}
                  }
                }
              ]
            },
            {
              "width": 266, "height": 199,
              "title": {"text": "Lever Pull", "offset": 1},
              "data": {"name": "p3"},
              "encoding": {
                "x": {"field": "x", "type": "quantitative", "scale": {"domain": [0, 12], "nice": false, "zero": false}, "axis": {"title": "Environment steps (1M)", "values": [0, 3, 6, 9, 12], "format": "d"}},
                "y": {"type": "quantitative", "scale": {"domain": [0, 105.7], "nice": false}, "axis": {"title": "Success Rate (%)", "values": [0, 20, 40, 60, 80, 100]}}
              },
              "layer": [
                {"transform": [{"filter": "datum.s === 'N=10'"}], "mark": {"type": "area", "color": "#d55e00", "fillOpacity": 0.13}, "encoding": {"y": {"field": "lo"}, "y2": {"field": "hi"}}},
                {"transform": [{"filter": "datum.s === 'N=25'"}], "mark": {"type": "area", "color": "#cc79a7", "fillOpacity": 0.13}, "encoding": {"y": {"field": "lo"}, "y2": {"field": "hi"}}},
                {"transform": [{"filter": "datum.s === 'N=50'"}], "mark": {"type": "area", "color": "#56b4e9", "fillOpacity": 0.13}, "encoding": {"y": {"field": "lo"}, "y2": {"field": "hi"}}},
                {
                  "mark": {"type": "line", "strokeWidth": 1.6},
                  "encoding": {
                    "y": {"field": "m"},
                    "color": {"field": "s", "type": "nominal", "scale": {"domain": ["N=10", "N=25", "N=50"], "range": ["#d55e00", "#cc79a7", "#56b4e9"]}, "legend": {"orient": "bottom-right", "title": null}}
                  }
                }
              ]
            }
          ],
          "spacing": 26,
          "resolve": {"scale": {"color": "independent"}, "legend": {"color": "independent"}}
        },
        {
          "hconcat": [
            {
              "width": 261, "height": 197,
              "title": {"text": "Plate Slide Back", "offset": -5},
              "data": {"name": "p4"},
              "encoding": {
                "x": {"field": "x", "type": "quantitative", "scale": {"domain": [0, 7], "nice": false, "zero": false}, "axis": {"title": "Environment steps (1M)", "values": [0, 1.75, 3.5, 5.25, 7], "format": ".2f"}},
                "y": {"type": "quantitative", "scale": {"domain": [0, 100], "nice": false}, "axis": {"title": "Success Rate (%)", "values": [0, 20, 40, 60, 80, 100]}}
              },
              "layer": [
                {"transform": [{"filter": "datum.s === 'N=2'"}], "mark": {"type": "area", "color": "#d55e00", "fillOpacity": 0.13}, "encoding": {"y": {"field": "lo"}, "y2": {"field": "hi"}}},
                {"transform": [{"filter": "datum.s === 'N=5'"}], "mark": {"type": "area", "color": "#cc79a7", "fillOpacity": 0.13}, "encoding": {"y": {"field": "lo"}, "y2": {"field": "hi"}}},
                {"transform": [{"filter": "datum.s === 'N=10'"}], "mark": {"type": "area", "color": "#56b4e9", "fillOpacity": 0.13}, "encoding": {"y": {"field": "lo"}, "y2": {"field": "hi"}}},
                {
                  "mark": {"type": "line", "strokeWidth": 1.6},
                  "encoding": {
                    "y": {"field": "m"},
                    "color": {"field": "s", "type": "nominal", "scale": {"domain": ["N=2", "N=5", "N=10"], "range": ["#d55e00", "#cc79a7", "#56b4e9"]}, "legend": {"orient": "top-right", "title": null}}
                  }
                }
              ]
            },
            {
              "width": 261, "height": 197,
              "title": {"text": "Door Lock", "offset": -5},
              "data": {"name": "p5"},
              "encoding": {
                "x": {"field": "x", "type": "quantitative", "scale": {"domain": [0, 7], "nice": false, "zero": false}, "axis": {"title": "Environment steps (1M)", "values": [0, 1.75, 3.5, 5.25, 7], "format": ".2f"}},
                "y": {"type": "quantitative", "scale": {"domain": [0, 100], "nice": false}, "axis": {"title": "Success Rate (%)", "values": [0, 20, 40, 60, 80, 100]}}
              },
              "layer": [
                {"transform": [{"filter": "datum.s === 'N=5'"}], "mark": {"type": "area", "color": "#d55e00", "fillOpacity": 0.13}, "encoding": {"y": {"field": "lo"}, "y2": {"field": "hi"}}},
                {"transform": [{"filter": "datum.s === 'N=10'"}], "mark": {"type": "area", "color": "#cc79a7", "fillOpacity": 0.13}, "encoding": {"y": {"field": "lo"}, "y2": {"field": "hi"}}},
                {"transform": [{"filter": "datum.s === 'N=25'"}], "mark": {"type": "area", "color": "#56b4e9", "fillOpacity": 0.13}, "encoding": {"y": {"field": "lo"}, "y2": {"field": "hi"}}},
                {
                  "mark": {"type": "line", "strokeWidth": 1.6},
                  "encoding": {
                    "y": {"field": "m"},
                    "color": {"field": "s", "type": "nominal", "scale": {"domain": ["N=5", "N=10", "N=25"], "range": ["#d55e00", "#cc79a7", "#56b4e9"]}, "legend": {"orient": "top-left", "title": null}}
                  }
                }
              ]
            }
          ],
          "spacing": 26,
          "resolve": {"scale": {"color": "independent"}, "legend": {"color": "independent"}}
        }
      ],
      "spacing": 22,
      "center": true,
      "resolve": {"scale": {"color": "independent"}, "legend": {"color": "independent"}}
    }
  ],
  "spacing": 63,
  "resolve": {"scale": {"color": "independent"}, "legend": {"color": "independent"}},
  "config": {
    "font": "DejaVu Sans",
    "view": {"stroke": "black", "strokeWidth": 1},
    "axis": {
      "domain": false,
      "ticks": true,
      "tickColor": "black",
      "tickSize": 3.5,
      "tickWidth": 0.8,
      "labelColor": "black",
      "labelFont": "DejaVu Sans",
      "labelFontSize": 11,
      "labelPadding": 2.5,
      "labelFlush": false,
      "labelOverlap": false,
      "titleFont": "DejaVu Sans",
      "titleFontSize": 17,
      "titleFontWeight": "normal",
      "titleColor": "black",
      "grid": true,
      "gridColor": "#c8c8c8",
      "gridDash": [3, 1.5],
      "gridWidth": 0.8
    },
    "axisX": {"titlePadding": 3},
    "axisY": {"titlePadding": 4.5},
    "title": {"font": "DejaVu Sans", "fontSize": 17, "fontWeight": "normal", "color": "black", "anchor": "middle", "frame": "group", "baseline": "alphabetic"},
    "legend": {
      "labelFont": "DejaVu Sans",
      "labelFontSize": 11,
      "labelColor": "black",
      "labelOffset": 9,
      "symbolType": "stroke",
      "symbolSize": 484,
      "symbolStrokeWidth": 1.6,
      "padding": 5,
      "rowPadding": -4,
      "offset": 4,
      "strokeColor": "#cccccc",
      "fillColor": "rgba(255,255,255,0.8)",
      "cornerRadius": 3
    }
  }
}
